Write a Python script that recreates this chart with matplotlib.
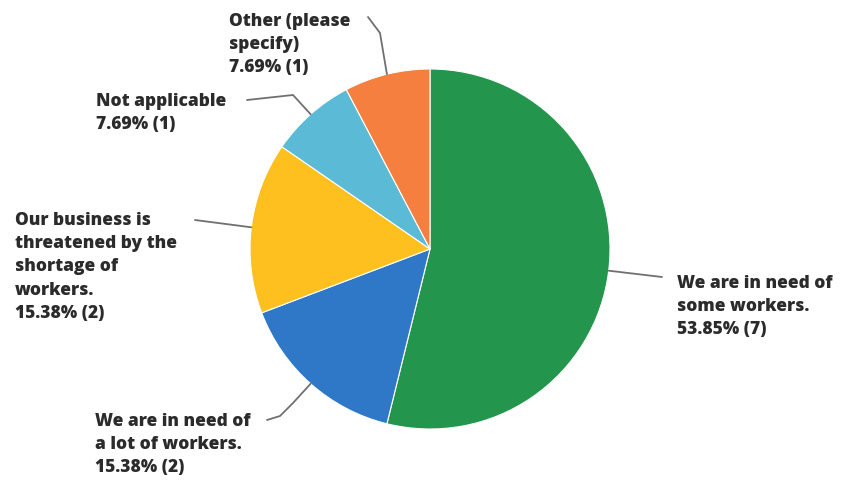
import numpy as np
import matplotlib
matplotlib.use("Agg")
import matplotlib.pyplot as plt

# survey answers, clockwise from 12 o'clock
answers = ["We are in need of\nsome workers.",
           "We are in need of\na lot of workers.",
           "Our business is\nthreatened by the\nshortage of\nworkers.",
           "Not applicable",
           "Other (please\nspecify)"]
counts = [7, 2, 2, 1, 1]
pcts = [53.85, 15.38, 15.38, 7.69, 7.69]
colors = ["#24954c", "#2f78c8", "#fec01e", "#5bbad6", "#f47f3e"]

# label block top-left corners and leader elbows (pixel space, y down)
label_xy = [(677, 275), (95, 413), (15, 212), (96, 93), (229, 13)]
leader_pts = [[(662, 277)],
              [(293, 403), (280, 416), (267, 420)],
              [(195, 220)],
              [(293, 95), (247, 100)],
              [(380, 33), (368, 17)]]

W, H = 841, 480
cx, cy, r = 430, 249, 180

fig = plt.figure(figsize=(W / 100, H / 100), dpi=100)
ax = fig.add_axes([0, 0, 1, 1])

wedges, _ = ax.pie(counts, colors=colors, startangle=90, counterclock=False,
                   center=(cx, H - cy), radius=r,
                   wedgeprops=dict(edgecolor="white", linewidth=0.8))

for i, w in enumerate(wedges):
    # leader line starts on the rim at the middle of the slice
    ang = np.deg2rad((w.theta1 + w.theta2) / 2)
    x0 = cx + r * np.cos(ang)
    y0 = (H - cy) + r * np.sin(ang)
    xs = [x0] + [p[0] for p in leader_pts[i]]
    ys = [y0] + [H - p[1] for p in leader_pts[i]]
    ax.plot(xs, ys, color="#707070", lw=1.3, solid_capstyle="round")

    tx, ty = label_xy[i]
    txt = "%s\n%.2f%% (%d)" % (answers[i], pcts[i], counts[i])
    ax.text(tx, H - ty, txt, ha="left", va="top", fontsize=12.5,
            family="Open Sans", weight="heavy", color="#2b2b2b",
            linespacing=1.48)

ax.set_xlim(0, W)
ax.set_ylim(0, H)
ax.set_aspect("equal")
ax.axis("off")

fig.savefig("out.png", dpi=100, facecolor="white")
